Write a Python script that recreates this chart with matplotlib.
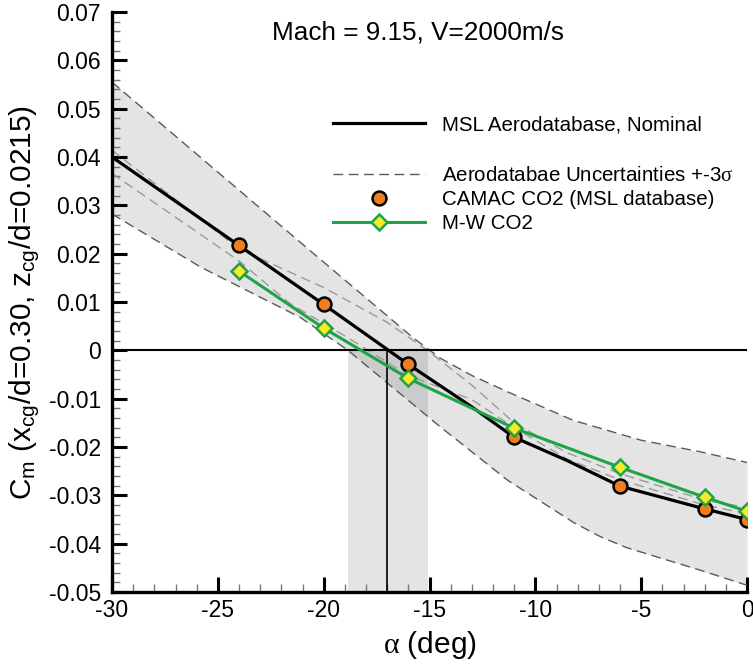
import matplotlib
matplotlib.use("Agg")
import matplotlib.pyplot as plt
from matplotlib.ticker import MultipleLocator
from matplotlib.lines import Line2D
import numpy as np

plt.rcParams['font.family'] = ['Liberation Sans', 'DejaVu Sans']
plt.rcParams['mathtext.fontset'] = 'custom'
plt.rcParams['mathtext.rm'] = 'Liberation Sans'
plt.rcParams['mathtext.it'] = 'Liberation Serif'
plt.rcParams['mathtext.bf'] = 'Liberation Sans:bold'

# ---- data ----
nominal_alpha = [-30, -24, -20, -16, -13, -11, -8.5, -6, -2, 0]
nominal_cm = [0.0400, 0.0217, 0.0095, -0.0029, -0.0117, -0.0180, -0.0228, -0.0281, -0.0328, -0.0350]

camac_alpha = [-24, -20, -16, -11, -6, -2, 0]
camac_cm = [0.0217, 0.0095, -0.0029, -0.0180, -0.0281, -0.0328, -0.0350]

mw_alpha = [-24, -20, -16, -11, -6, -2, 0]
mw_cm = [0.0164, 0.0046, -0.0058, -0.0161, -0.0242, -0.0304, -0.0333]

upper_alpha = [-30, -20.5, -15.8, -14.5, -13.0, -11.3, -8.2, -5.0, -2.2, 0]
upper_cm = [0.0555, 0.0201, 0.0027, -0.0016, -0.0052, -0.0086, -0.0145, -0.0186, -0.0210, -0.0232]

lower_alpha = [-30, -25.8, -21.1, -18.85, -16.1, -14.5, -11.3, -8.2, -6.95, -5.7, -2.2, 0]
lower_cm = [0.0282, 0.0172, 0.0068, 0.0, -0.0100, -0.0158, -0.0269, -0.0356, -0.0385, -0.0408, -0.0455, -0.0486]

innerA_alpha = [-30, -24, -20, -17, -15.1, -13, -11, -8.5, -6, -2, 0]
innerA_cm = [0.0414, 0.0210, 0.0130, 0.0058, 0.0, -0.0072, -0.0150, -0.0212, -0.0255, -0.0310, -0.0325]

innerB_alpha = [-30, -24, -21.6, -19, -16, -13, -11, -8.5, -6, -2, 0]
innerB_cm = [0.0366, 0.0185, 0.0097, 0.0030, -0.0052, -0.0102, -0.0160, -0.0225, -0.0268, -0.0320, -0.0338]

trim_alpha = -17.0
trim_band = [-18.85, -15.05]

title_text = "Mach = 9.15, V=2000m/s"
xlabel_text = r"$\alpha$ (deg)"
ylabel_text = r"C$_\mathregular{m}$ (x$_\mathregular{cg}$/d=0.30, z$_\mathregular{cg}$/d=0.0215)"
labels = ["MSL Aerodatabase, Nominal", r"Aerodatabae Uncertainties +-3$\sigma$",
          "CAMAC CO2 (MSL database)", "M-W CO2"]

# ---- figure ----
fig = plt.figure(figsize=(7.53, 6.65), dpi=100)
ax = fig.add_axes([112/753, 1-592/665, (747-112)/753, (592-12)/665])

ax.set_xlim(-30, 0)
ax.set_ylim(-0.05, 0.07)

# uncertainty band fill
grid = np.union1d(upper_alpha, lower_alpha)
up_i = np.interp(grid, upper_alpha, upper_cm)
lo_i = np.interp(grid, lower_alpha, lower_cm)
ax.fill_between(grid, lo_i, up_i, color='black', alpha=0.106, lw=0, zorder=1)
# trim alpha band (below zero)
ax.fill_between(trim_band, [-0.05, -0.05], [0, 0], color='black', alpha=0.106, lw=0, zorder=1)

dash_dark = dict(color='#5a5a5a', lw=1.0, dashes=(7, 4), zorder=2)
dash_light = dict(color='#9a9a9a', lw=1.0, dashes=(7, 4), zorder=2)
ax.plot(upper_alpha, upper_cm, **dash_dark)
ax.plot(lower_alpha, lower_cm, **dash_dark)
ax.plot(innerA_alpha, innerA_cm, **dash_light)
ax.plot(innerB_alpha, innerB_cm, **dash_light)

# zero line and trim line
ax.axhline(0, color='black', lw=1.5, zorder=3)
ax.plot([trim_alpha, trim_alpha], [-0.05, 0], color='black', lw=1.2, zorder=3)

green = '#1ea448'
ax.plot(nominal_alpha, nominal_cm, color='black', lw=2.3, zorder=4, solid_capstyle='butt')
ax.plot(camac_alpha, camac_cm, ls='none', marker='o', ms=10, mfc='#f27d1f', mec='black', mew=1.8, zorder=5)
ax.plot(mw_alpha, mw_cm, color=green, lw=2.2, marker='D', ms=8, mfc='#f6ea2c', mec=green, mew=1.8, zorder=6)

# axes styling
for s in ['top', 'right']:
    ax.spines[s].set_visible(False)
for s in ['left', 'bottom']:
    ax.spines[s].set_linewidth(2.4)
ax.xaxis.set_major_locator(MultipleLocator(5))
ax.xaxis.set_minor_locator(MultipleLocator(1))
ax.yaxis.set_major_locator(MultipleLocator(0.01))
ax.yaxis.set_minor_locator(MultipleLocator(0.002))
ax.tick_params(which='major', direction='in', length=11, width=2.2, labelsize=16.5, color='black')
ax.tick_params(which='minor', direction='in', length=6, width=1.0, color='#777777')
ax.tick_params(axis='y', which='major', pad=8)
ax.tick_params(axis='x', which='major', pad=5)
ax.set_xticks(np.arange(-30, 1, 5))
ax.set_xticklabels([str(v) for v in range(-30, 1, 5)])
ax.yaxis.set_major_formatter(matplotlib.ticker.FuncFormatter(lambda v, p: "0" if abs(v) < 1e-9 else f"{v:.2f}"))

ax.set_xlabel(xlabel_text, fontsize=21.5, labelpad=5)
ax.set_ylabel(ylabel_text, fontsize=21.5, labelpad=5)

ax.text((418-112)/635, 0.965, title_text, transform=ax.transAxes, ha='center', va='center', fontsize=18.8)

# legends
h1 = [Line2D([], [], color='black', lw=2.3)]
leg1 = ax.legend(h1, labels[:1], loc='upper left', bbox_to_anchor=(0.348, 0.822), frameon=False,
                 fontsize=14.8, handlelength=4.5, handletextpad=0.8, borderpad=0, borderaxespad=0)
ax.add_artist(leg1)
h2 = [Line2D([], [], color='#5a5a5a', lw=1.0, dashes=(7, 4)),
      Line2D([], [], ls='none', marker='o', ms=10, mfc='#f27d1f', mec='black', mew=1.8),
      Line2D([], [], color=green, lw=2.2, marker='D', ms=8, mfc='#f6ea2c', mec=green, mew=1.8)]
ax.legend(h2, labels[1:], loc='upper left', bbox_to_anchor=(0.348, 0.735), frameon=False,
          fontsize=14.8, handlelength=4.5, handletextpad=0.8, borderpad=0, borderaxespad=0,
          labelspacing=0.25)

fig.savefig("out.png", dpi=100)
